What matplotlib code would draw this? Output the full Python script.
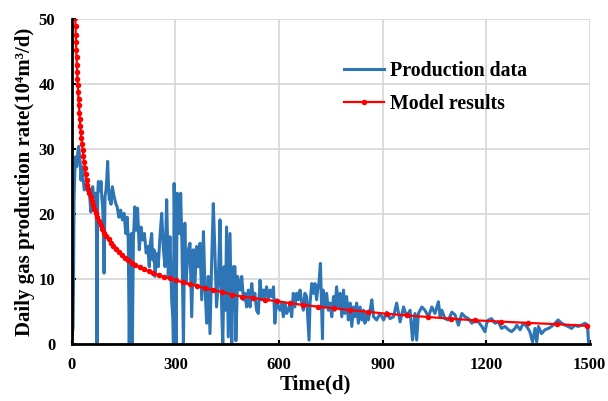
import matplotlib
matplotlib.use("Agg")
import matplotlib.pyplot as plt

# Observed daily gas production (days, 10^4 m3/d)
prod_days = [
    0, 1, 3, 4.5, 6, 8, 10, 12, 14, 17, 19.3, 21, 23.2, 26.1, 29, 32, 35.7, 39, 42.5, 46,
    50.2, 53, 55, 59.9, 63, 67.6, 70.5, 72.5, 74.5, 76.3, 79.2, 82, 84, 86.5, 88.9, 91, 93, 95.7, 98.6, 101,
    103.4, 106, 108.2, 111, 113, 117, 122, 127, 131, 136, 141, 146, 151, 156, 160, 163, 166, 169, 172, 175,
    178, 182, 186, 190, 195, 200, 205, 210, 215, 220, 224, 226, 231, 234, 238, 240.6, 245.4, 250, 255, 260,
    265, 269.6, 274.4, 279, 284, 289, 292, 294, 296, 299, 301.4, 305, 311, 315, 319, 323, 327, 330.4, 337, 342,
    347, 351.7, 356.5, 361, 366, 371, 376, 381, 385, 390.4, 395, 400, 405, 409.6, 414, 419, 424, 429, 434, 437,
    441, 445, 448, 453, 458, 463, 467.6, 472.5, 475, 480, 487, 492, 497, 501.4, 506, 511, 516, 521, 525.5, 530,
    535, 540, 545, 550, 555, 559, 564, 569, 574, 579, 584, 588, 593, 598, 603, 608, 612.6, 617, 622, 627,
    632, 636.7, 641.5, 646, 651, 656, 661, 666, 670.5, 675, 680, 687, 690, 695, 700, 704.3, 709, 712, 716, 720,
    726, 728, 733, 738, 743, 748, 753, 758, 762, 767, 772, 777, 782, 787, 791, 796, 801, 806, 811, 816,
    820, 825, 830, 835, 840, 845, 849, 854, 859, 864, 869, 874, 883, 893, 903, 912, 922, 932, 941, 951,
    961, 970, 980, 987, 994, 999, 1004, 1014, 1023, 1033, 1043, 1052, 1062, 1067, 1072, 1081, 1091, 1101, 1110, 1120,
    1130, 1139, 1149, 1159, 1168, 1178, 1188, 1197, 1202, 1207, 1216, 1226, 1236, 1245, 1255, 1265, 1274, 1284, 1289, 1299,
    1308, 1318, 1327, 1335, 1342, 1347, 1352, 1361, 1371, 1381, 1390, 1400, 1409, 1419, 1429, 1438, 1448, 1458, 1467, 1477,
    1487, 1494, 1497,
]
prod_rate = [
    1.6, 1.6, 2.5, 10, 22.2, 26, 28.8, 27.5, 27.3, 29.5, 30.4, 29.5, 28.3, 25.2, 27.3, 25.5, 23.7, 24.5, 24.7, 23.5,
    23.7, 21.5, 20.3, 24.2, 22.5, 23.2, 21.5, 0, 23, 25, 24.2, 23.5, 25, 22.5, 21.1, 18, 10.9, 22.7, 23.7, 25.5,
    28.1, 24, 22.2, 23.5, 21.5, 24.2, 22.7, 21.6, 21.1, 19.5, 20.6, 19.1, 20.1, 17, 19.5, 16, 0, 15.5, 17, 0,
    16, 21.1, 17.5, 20.9, 14.5, 18, 16, 17, 14, 15, 11.9, 15.0, 17.0, 12.9, 14.5, 10.4, 13.9, 11.9, 16.5, 20.1,
    14.5, 11.9, 22.2, 10.4, 16.5, 6.8, 4.2, 0, 24.7, 14.5, 0, 23.2, 17, 23.2, 14.5, 0, 18.6, 9.3, 14.5, 15.5,
    4.2, 14.5, 9.3, 15.0, 11.9, 15.5, 6.8, 17.3, 9.3, 3.2, 10.4, 1.6, 12.9, 21.6, 14.5, 5.7, 9.3, 19.1, 5.2, 0,
    11.9, 5.2, 18, 1.1, 17, 0, 11.9, 11.9, 0.5, 10.4, 8.3, 10.4, 6.8, 7.8, 5.7, 8.3, 5.7, 9.3, 6.8, 7.8,
    5.2, 4.7, 9.8, 6.8, 8.3, 7.3, 8.8, 6.8, 8.3, 7.3, 8.8, 3.2, 6.8, 5.7, 5.2, 6.3, 4.2, 6.3, 4.7, 5.2,
    6.3, 4.2, 7.8, 5.7, 7.8, 6.8, 8.3, 6.3, 5.2, 7.8, 7.3, 0.6, 6.3, 9.3, 7.8, 9.3, 6.8, 8.3, 9.5, 12.4,
    0.8, 8.3, 5.7, 7.8, 5.2, 6.3, 4.2, 7.3, 5.2, 8.8, 5.7, 7.8, 4.2, 8.3, 4.7, 7.3, 3.7, 6.3, 2.7, 5.7,
    4.2, 6.3, 3.2, 5.7, 3.7, 5.2, 3.2, 4.7, 3.7, 5.2, 6.8, 4.2, 3.7, 4.7, 3.7, 4.9, 3.9, 4.2, 6.3, 3.4,
    5.7, 4.2, 5.2, 0.6, 4.7, 0.6, 4.7, 5.7, 5.2, 4.2, 5.7, 4.7, 6.5, 4.2, 5.2, 3.9, 3.7, 4.9, 4.5, 2.9,
    4.7, 4.2, 3.9, 3.2, 3.7, 3.4, 2.7, 1.9, 3.2, 3.7, 3.9, 3.2, 3.4, 2.4, 2.7, 2.2, 1.9, 2.4, 2.9, 2.2,
    3.2, 2.7, 1.9, 0.3, 2.4, 0.3, 2.7, 1.6, 2.2, 2.4, 2.7, 3.2, 3.7, 3.2, 2.9, 2.7, 2.4, 2.9, 2.7, 2.9,
    3.2, 2.9, 0.3,
]

# Model prediction (days, 10^4 m3/d)
model_days = [
    8.0, 8.5, 9.0, 9.6, 10.2, 10.9, 11.6, 12.3, 13.1, 13.9, 14.8, 15.7, 16.7, 17.8, 18.9, 20.1, 21.4, 22.7,
    24.2, 25.7, 27.3, 29.1, 30.9, 32.9, 35.0, 37.2, 39.5, 42.1, 44.7, 47.6, 50.6, 53.8, 57.2, 60.8, 64.7,
    68.8, 73.2, 77.8, 82.7, 88.0, 93.6, 99.5, 106, 113, 120, 127, 135, 144, 153, 163, 173, 184, 196, 208,
    222, 236, 251, 266, 283, 301, 321, 341, 363, 386, 410, 436, 464, 493, 525, 558, 593, 631, 671, 714,
    759, 807, 858, 913, 971, 1033, 1098, 1168, 1242, 1321, 1405, 1494,
]
model_rate = [
    53.5, 52.2, 51.0, 50.1, 49.0, 47.6, 46.5, 45.3, 44.1, 43.0, 41.9, 40.8, 39.8, 38.7, 37.7, 36.7, 35.6, 34.6,
    33.6, 32.6, 31.7, 30.8, 29.9, 29.0, 28.0, 27.1, 26.2, 25.2, 24.5, 23.8, 23.2, 22.6, 22.0, 21.4, 20.8,
    20.2, 19.6, 19.0, 18.3, 17.7, 17.1, 16.6, 16.1, 15.6, 15.1, 14.6, 14.1, 13.7, 13.3, 12.9, 12.5, 12.2, 11.8, 11.5,
    11.2, 10.9, 10.6, 10.3, 10.1, 9.8, 9.5, 9.2, 8.9, 8.6, 8.3, 8.0, 7.6, 7.3, 7.1, 6.8, 6.6, 6.3, 6.0, 5.75,
    5.5, 5.2, 4.95, 4.65, 4.4, 4.15, 3.9, 3.65, 3.45, 3.25, 3.05, 2.8,
]

x_ticks = [0, 300, 600, 900, 1200, 1500]
y_ticks = [0, 10, 20, 30, 40, 50]

serif = ["Liberation Serif", "DejaVu Serif"]
plt.rcParams["font.family"] = serif
plt.rcParams["font.weight"] = "bold"

fig = plt.figure(figsize=(6.08, 4.01), dpi=100)
ax = fig.add_axes([0.1184, 0.1421, 0.8512, 0.8105])

ax.plot(prod_days, prod_rate, color="#2e75b6", linewidth=2.2, label="Production data", zorder=3)
ax.plot(model_days, model_rate, color="#ff0000", linewidth=1.6, marker="o", markersize=4.0,
        markeredgewidth=0, label="Model results", zorder=4)

ax.set_xlim(0, 1500)
ax.set_ylim(0, 50)
ax.set_xticks(x_ticks)
ax.set_yticks(y_ticks)
ax.grid(True, color="#d9d9d9", linewidth=1.3)
ax.set_axisbelow(True)

for side in ("top", "right"):
    ax.spines[side].set_visible(False)
for side in ("left", "bottom"):
    ax.spines[side].set_linewidth(2.0)
    ax.spines[side].set_color("black")
    ax.spines[side].set_zorder(5)

ax.tick_params(direction="in", length=3, width=1.5, labelsize=12)
ax.tick_params(axis="y", pad=12)
ax.tick_params(axis="x", pad=9)
for lab in ax.get_xticklabels() + ax.get_yticklabels():
    lab.set_fontweight("bold")

ax.set_xlabel("Time(d)", fontsize=15, fontweight="bold")
ax.xaxis.set_label_coords(0.471, -0.095)
ax.set_ylabel("Daily gas production rate(10\u2074m\u00b3/d)", fontsize=15, fontweight="bold", labelpad=3)

leg = ax.legend(loc="upper left", bbox_to_anchor=(0.51, 0.895), frameon=False,
                prop={"family": serif, "weight": "bold", "size": 14.3},
                handlelength=2.0, handletextpad=0.3, labelspacing=0.65, borderaxespad=0)

fig.savefig("out.png", dpi=100)
